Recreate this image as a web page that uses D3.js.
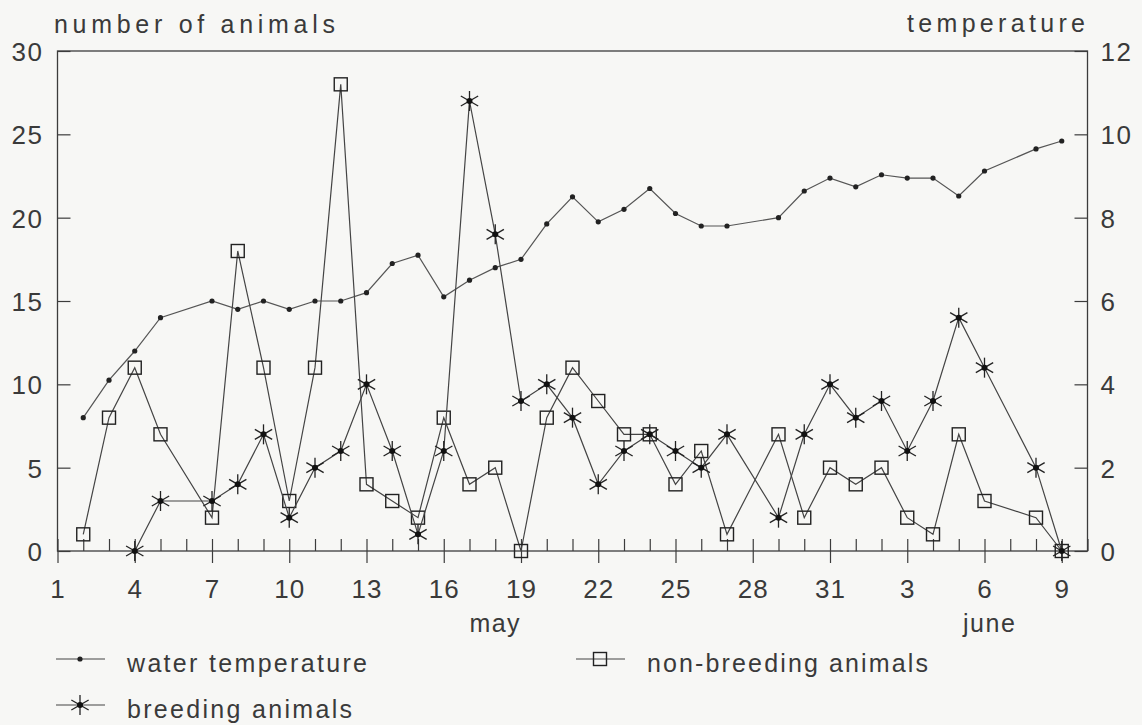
<!DOCTYPE html>
<html><head><meta charset="utf-8">
<script src="https://cdn.jsdelivr.net/npm/d3@7"></script>
<style>
html,body{margin:0;padding:0;background:#f7f7f5;}
text{font-family:"Liberation Sans",Arial,sans-serif;fill:#3a3a3a;}
</style></head>
<body><svg id="c" width="1142" height="725"></svg>
<script>
// ---- data ----
const sampleDays = [2,3,4,5,7,8,9,10,11,12,13,14,15,16,17,18,19,20,21,22,23,24,25,26,27,29,30,31,32,33,34,35,36,37,39,40];
const waterTemperature = [3.2,4.1,4.8,5.6,6.0,5.8,6.0,5.8,6.0,6.0,6.2,6.9,7.1,6.1,6.5,6.8,7.0,7.85,8.5,7.9,8.2,8.7,8.1,7.8,7.8,8.0,8.64,8.95,8.74,9.03,8.95,8.95,8.52,9.12,9.65,9.84];
const nonBreeding = [1,8,11,7,2,18,11,3,11,28,4,3,2,8,4,5,0,8,11,9,7,7,4,6,1,7,2,5,4,5,2,1,7,3,2,0];
const breedingDays = [4,5,7,8,9,10,11,12,13,14,15,16,17,18,19,20,21,22,23,24,25,26,27,29,30,31,32,33,34,35,36,37,39,40];
const breeding = [0,3,3,4,7,2,5,6,10,6,1,6,27,19,9,10,8,4,6,7,6,5,7,2,7,10,8,9,6,9,14,11,5,0];
const majorTickDays = [1,4,7,10,13,16,19,22,25,28,31,34,37,40];
const majorTickLabels = ["1","4","7","10","13","16","19","22","25","28","31","3","6","9"];
const leftTicks = [0,5,10,15,20,25,30];
const rightTicks = [0,2,4,6,8,10,12];
const monthLabels = [{day:18, text:"may"},{day:37.2, text:"june"}];
const legendItems = ["water temperature","non-breeding animals","breeding animals"];

// ---- layout ----
const svg = d3.select("#c");
const L = 57.5, R = 1087.5, T = 51, B = 551;
const x = d3.scaleLinear().domain([1,41]).range([L,R]);
const yL = d3.scaleLinear().domain([0,30]).range([B,T]);
const yR = d3.scaleLinear().domain([0,12]).range([B,T]);
const ink = "#3c3c3c";

svg.append("rect").attr("width",1142).attr("height",725).attr("fill","#f7f7f5");

// frame
svg.append("rect").attr("x",L).attr("y",T).attr("width",R-L).attr("height",B-T)
  .attr("fill","none").attr("stroke",ink).attr("stroke-width",1.3);

// x axis: minor ticks (inside), major ticks (crossing)
const allDays = d3.range(1,42);
const gxMinor = svg.append("g").attr("transform",`translate(0,${B})`)
  .call(d3.axisBottom(x).tickValues(allDays).tickSize(-12).tickFormat(""));
const gxMajor = svg.append("g").attr("transform",`translate(0,${B})`)
  .call(d3.axisBottom(x).tickValues(majorTickDays).tickSize(12).tickPadding(17)
     .tickFormat((d,i)=>majorTickLabels[i]));
[gxMinor,gxMajor].forEach(g=>{
  g.select(".domain").remove();
  g.selectAll(".tick line").attr("stroke",ink).attr("stroke-width",1.2);
});
gxMajor.selectAll(".tick text").attr("font-size",26).attr("fill","#3a3a3a")
  .style("font-family","Liberation Sans").attr("letter-spacing",1);

// left axis
const gyL = svg.append("g").attr("transform",`translate(${L},0)`)
  .call(d3.axisLeft(yL).tickValues(leftTicks).tickSize(-13).tickPadding(14));
gyL.select(".domain").remove();
gyL.selectAll(".tick line").attr("stroke",ink).attr("stroke-width",1.2);
gyL.selectAll(".tick text").attr("font-size",26).attr("fill","#3a3a3a")
  .style("font-family","Liberation Sans").attr("letter-spacing",1.5).attr("dy","0.36em");

// right axis
const gyR = svg.append("g").attr("transform",`translate(${R},0)`)
  .call(d3.axisRight(yR).tickValues(rightTicks).tickSize(-13).tickPadding(13));
gyR.select(".domain").remove();
gyR.selectAll(".tick line").attr("stroke",ink).attr("stroke-width",1.2);
gyR.selectAll(".tick text").attr("font-size",26).attr("fill","#3a3a3a")
  .style("font-family","Liberation Sans").attr("letter-spacing",1.5).attr("dy","0.36em");

// axis titles
svg.append("text").attr("x",54).attr("y",33).attr("font-size",25)
  .attr("textLength",281).attr("lengthAdjust","spacing").text("number of animals");
svg.append("text").attr("x",907).attr("y",32).attr("font-size",25)
  .attr("textLength",178).attr("lengthAdjust","spacing").text("temperature");
monthLabels.forEach(m=>{
  svg.append("text").attr("x",x(m.day)).attr("y",632).attr("text-anchor","middle")
    .attr("font-size",25).attr("letter-spacing",1.5).text(m.text);
});

// markers
function star(g, cx, cy, s){
  const a = [90, 30, 150];
  a.forEach(deg=>{
    const r = deg*Math.PI/180;
    g.append("line").attr("x1",cx-Math.cos(r)*s).attr("y1",cy-Math.sin(r)*s)
      .attr("x2",cx+Math.cos(r)*s).attr("y2",cy+Math.sin(r)*s)
      .attr("stroke","#222").attr("stroke-width",1.3);
  });
  g.append("circle").attr("cx",cx).attr("cy",cy).attr("r",3).attr("fill","#111");
}
function square(g, cx, cy){
  g.append("rect").attr("x",cx-6.5).attr("y",cy-6.5).attr("width",13).attr("height",13)
    .attr("fill","none").attr("stroke","#222").attr("stroke-width",1.4);
}
function dot(g, cx, cy){
  g.append("circle").attr("cx",cx).attr("cy",cy).attr("r",2.6).attr("fill","#222");
}

const line = d3.line();
// water temperature
const tempPts = sampleDays.map((d,i)=>[x(d), yR(waterTemperature[i])]);
svg.append("path").attr("d",line(tempPts)).attr("fill","none").attr("stroke","#555").attr("stroke-width",1.2);
const gT = svg.append("g");
tempPts.forEach(p=>dot(gT,p[0],p[1]));

// non-breeding
const nbPts = sampleDays.map((d,i)=>[x(d), yL(nonBreeding[i])]);
svg.append("path").attr("d",line(nbPts)).attr("fill","none").attr("stroke","#444").attr("stroke-width",1.2);
const gNB = svg.append("g");
nbPts.forEach(p=>square(gNB,p[0],p[1]));

// breeding
const brPts = breedingDays.map((d,i)=>[x(d), yL(breeding[i])]);
svg.append("path").attr("d",line(brPts)).attr("fill","none").attr("stroke","#444").attr("stroke-width",1.2);
const gBR = svg.append("g");
brPts.forEach(p=>star(gBR,p[0],p[1],10));

// legend
const lg = svg.append("g");
function legendRow(x0, y0, txt, kind, tw){
  lg.append("line").attr("x1",x0).attr("x2",x0+49).attr("y1",y0).attr("y2",y0)
    .attr("stroke","#444").attr("stroke-width",1.2);
  const cx = x0+24, cy = y0;
  if(kind==="dot") dot(lg,cx,cy);
  if(kind==="square") square(lg,cx,cy);
  if(kind==="star") star(lg,cx,cy,10);
  lg.append("text").attr("x",x0+71).attr("y",y0+13).attr("font-size",25)
    .attr("textLength",tw).attr("lengthAdjust","spacing").text(txt);
}
legendRow(56, 659, legendItems[0], "dot", 240);
legendRow(576, 659, legendItems[1], "square", 281);
legendRow(56, 705, legendItems[2], "star", 225);
</script></body></html>
